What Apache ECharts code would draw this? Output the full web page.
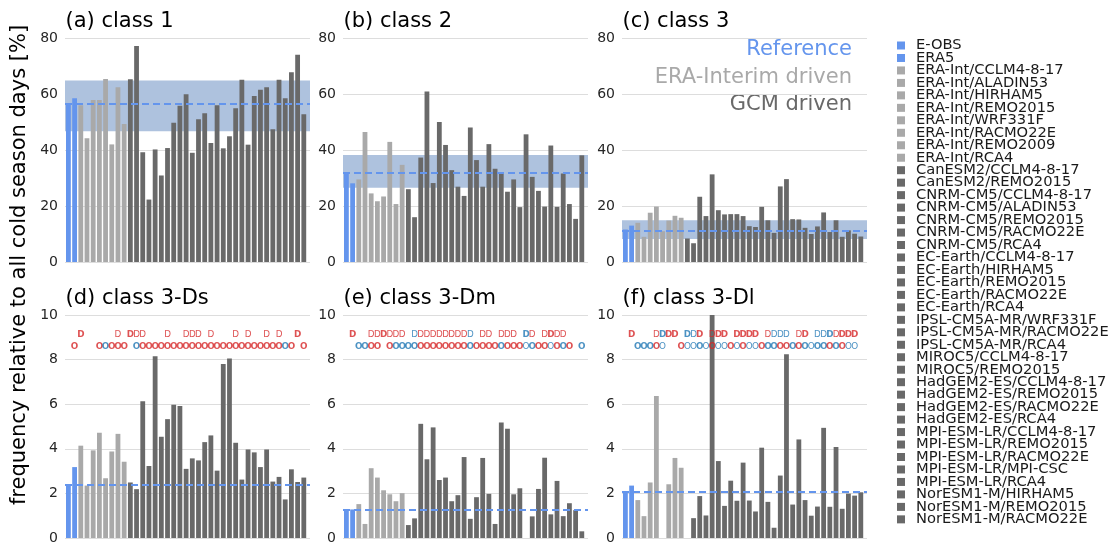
<!DOCTYPE html>
<html><head><meta charset="utf-8">
<script src="https://cdn.jsdelivr.net/npm/echarts@6/dist/echarts.min.js"></script>
<style>html,body{margin:0;padding:0;background:#fff}#c{width:1116px;height:545px}</style>
</head><body><div id="c"></div>
<script>
// ---------- data ----------
const models = [
  'E-OBS','ERA5',
  'ERA-Int/CCLM4-8-17','ERA-Int/ALADIN53','ERA-Int/HIRHAM5','ERA-Int/REMO2015',
  'ERA-Int/WRF331F','ERA-Int/RACMO22E','ERA-Int/REMO2009','ERA-Int/RCA4',
  'CanESM2/CCLM4-8-17','CanESM2/REMO2015',
  'CNRM-CM5/CCLM4-8-17','CNRM-CM5/ALADIN53','CNRM-CM5/REMO2015','CNRM-CM5/RACMO22E','CNRM-CM5/RCA4',
  'EC-Earth/CCLM4-8-17','EC-Earth/HIRHAM5','EC-Earth/REMO2015','EC-Earth/RACMO22E','EC-Earth/RCA4',
  'IPSL-CM5A-MR/WRF331F','IPSL-CM5A-MR/RACMO22E','IPSL-CM5A-MR/RCA4',
  'MIROC5/CCLM4-8-17','MIROC5/REMO2015',
  'HadGEM2-ES/CCLM4-8-17','HadGEM2-ES/REMO2015','HadGEM2-ES/RACMO22E','HadGEM2-ES/RCA4',
  'MPI-ESM-LR/CCLM4-8-17','MPI-ESM-LR/REMO2015','MPI-ESM-LR/RACMO22E','MPI-ESM-LR/MPI-CSC','MPI-ESM-LR/RCA4',
  'NorESM1-M/HIRHAM5','NorESM1-M/REMO2015','NorESM1-M/RACMO22E'
];
const nReference = 2;
const nEraInterim = 8;

const class1 = [56.6,58.5, 56.0,44.2,57.9,57.9,65.4,42.0,62.4,49.3,
  65.3,77.1,39.2,22.3,40.2,30.9,40.7,49.7,55.8,59.9,39.0,51.0,53.1,42.5,56.0,40.6,44.9,54.9,65.1,41.9,
  59.3,61.5,62.4,47.4,65.1,58.5,67.8,74.0,52.8];
const class2 = [32.0,28.1, 29.5,46.4,24.5,21.7,23.4,42.9,20.7,34.7,
  26.0,16.0,37.3,60.9,28.2,50.0,41.8,32.8,26.9,23.6,48.0,36.4,26.9,42.1,33.3,31.9,25.1,29.5,19.6,45.6,
  30.4,25.4,19.8,41.6,19.7,31.6,20.7,15.4,38.1];
const class3 = [11.6,13.0, 14.0,9.0,17.6,19.8,11.0,14.8,16.5,15.8,
  8.4,6.7,23.3,16.4,31.3,18.5,17.0,17.1,17.1,16.4,12.8,12.5,19.7,14.9,10.4,27.0,29.6,15.3,15.2,12.2,
  10.0,12.7,17.7,10.7,14.9,9.0,11.3,10.1,9.1];
const class3Ds = [2.41,3.18, 4.14,2.35,3.93,4.72,2.68,3.88,4.67,3.42,
  2.49,2.19,6.13,3.23,8.15,4.54,5.33,5.97,5.92,3.10,3.57,3.48,4.30,4.60,3.02,7.80,8.05,4.27,2.62,3.97,
  3.84,3.18,3.97,2.53,2.74,1.73,3.08,2.51,2.71];
const class3Dm = [1.30,1.28, 1.52,0.63,3.13,2.71,2.14,1.96,1.65,2.01,
  0.58,0.88,5.12,3.53,4.96,2.60,2.71,1.65,1.92,3.63,0.86,1.83,3.59,1.98,0.63,5.18,4.90,1.96,2.23,0,
  0.97,2.20,3.60,1.06,2.56,0.98,1.56,1.25,0.30];
const class3Dl = [2.07,2.35, 1.70,0.98,2.49,6.37,0,2.41,3.59,3.15,
  0,0.89,1.88,1.01,10.0,3.45,1.44,2.57,1.67,3.38,1.68,1.19,4.05,1.62,0.46,2.80,8.24,1.50,4.42,1.70,
  1.00,1.41,4.94,1.40,4.08,1.31,1.99,1.90,2.05];

const panelTitles = ['(a) class 1','(b) class 2','(c) class 3','(d) class 3-Ds','(e) class 3-Dm','(f) class 3-Dl'];
const refLine = [56.4, 32.0, 11.3, 2.41, 1.28, 2.07];
const bandLow  = [46.7, 26.5, 8.2];
const bandHigh = [64.8, 38.2, 14.9];
const topTicks = [0,20,40,60,80];
const bottomTicks = [0,2,4,6,8,10];
const groupLabels = ['Reference','ERA-Interim driven','GCM driven'];
const yLabel = 'frequency relative to all cold season days [%]';

// significance markers per model ('.' none, r/b = red/blue, upper case = bold)
const marksD_Ds = '..R.....r.Rrr...r..rrr.r...r.r..r.r..R.';
const marksO_Ds = '.R...RBRRR.BRRRRRRRRRRRRRRRRRRRRRRRBR.R';
const marksD_Dm = '.R..rrRrrr.brrrrrrrrb.rr.rrr.Br.rRrr...';
const marksO_Dm = '..BBRR.RBBBBRRRRRRRRBRRRRBRRRbBRRbRBR.B';
const marksD_Dl = '.R...rBRR.BbR.rRR.RRRR.rbbb.rR.bbBrRRR.';
const marksO_Dl = '..BBBRb..RbbBbRbbRbRbbRBBRRBRBbBBRBRbb.';

// ---------- styling / layout ----------
const FONT = 'DejaVu Sans';
const C_REF = '#6495ED', C_ERA = '#A9A9A9', C_GCM = '#696969';
const C_RED = '#d62728', C_BLUE = '#1f77b4';
const groupColors = [C_REF, C_ERA, C_GCM];
const colorOf = i => i < nReference ? C_REF : (i < nReference + nEraInterim ? C_ERA : C_GCM);

const allVals = [class1, class2, class3, class3Ds, class3Dm, class3Dl];
const marksD = [null,null,null, marksD_Ds, marksD_Dm, marksD_Dl];
const marksO = [null,null,null, marksO_Ds, marksO_Dm, marksO_Dl];
const gLeft = [65, 343, 622], gTop = [38, 315], gW = 245, gH = 224;

const grid = [], xAxis = [], yAxis = [], series = [], graphic = [];
for (let p = 0; p < 6; p++) {
  const col = p % 3, row = Math.floor(p / 3);
  const ticks = row === 0 ? topTicks : bottomTicks;
  grid.push({left: gLeft[col], top: gTop[row], width: gW, height: gH});
  xAxis.push({type:'value', gridIndex:p, min:-0.55, max:39, show:false});
  yAxis.push({type:'value', gridIndex:p, min:ticks[0], max:ticks[ticks.length-1],
    interval: ticks[1]-ticks[0],
    axisLine:{show:false}, axisTick:{show:false},
    splitLine:{lineStyle:{color:'#dddddd', width:1}},
    axisLabel:{fontFamily:FONT, fontSize:14, color:'#262626', margin:7}});
  if (row === 0) {
    series.push({type:'line', xAxisIndex:p, yAxisIndex:p, data:[], z:1, silent:true,
      markArea:{silent:true, itemStyle:{color:'#AEC2DE'},
        data:[[{yAxis:bandLow[p]},{yAxis:bandHigh[p]}]]}});
  }
  series.push({type:'bar', xAxisIndex:p, yAxisIndex:p, barWidth:4.8, z:2, silent:true,
    data: allVals[p].map((v,i)=>({value:[i,v], itemStyle:{color:colorOf(i)}}))});
  series.push({type:'line', xAxisIndex:p, yAxisIndex:p, data:[], z:5, silent:true,
    markLine:{silent:true, symbol:['none','none'], label:{show:false},
      lineStyle:{color:C_REF, width:2, type:[7,4]}, data:[{yAxis:refLine[p]}]}});
  if (row === 1) {
    [[marksD[p],'D',9.1],[marksO[p],'O',8.58]].forEach(([str,ch,yv])=>{
      const data = [];
      str.split('').forEach((c,i)=>{
        if (c === '.') return;
        data.push({value:[i,yv], label:{color:(c.toLowerCase()==='r'?C_RED:C_BLUE),
          fontWeight:(c===c.toUpperCase()?'bold':'normal')}});
      });
      series.push({type:'scatter', xAxisIndex:p, yAxisIndex:p, z:4, silent:true,
        symbolSize:1, itemStyle:{color:'rgba(0,0,0,0)'},
        label:{show:true, position:'inside', formatter:ch, fontFamily:FONT, fontSize:8.8},
        data});
    });
  }
  graphic.push({type:'text', left: gLeft[col]+0.5, top: (row===0? 11 : 288),
    style:{text:panelTitles[p], font:'21px "DejaVu Sans"', fill:'#000'}});
}

// legend dummy series
models.forEach((m,i)=>{
  series.push({type:'scatter', name:m, xAxisIndex:0, yAxisIndex:0, data:[],
    itemStyle:{color:colorOf(i), opacity:1}});
});

// group labels in panel (c)
const glY = [50, 77.5, 105];
groupLabels.forEach((t,k)=>{
  graphic.push({type:'text', x: 852, y: glY[k],
    style:{text:t, font:'21px "DejaVu Sans"', fill:groupColors[k], align:'right', verticalAlign:'middle'}});
});
// y-axis title
graphic.push({type:'text', x:20, y:265, rotation:Math.PI/2,
  style:{text:yLabel, font:'21px "DejaVu Sans"', fill:'#000', align:'center', verticalAlign:'middle'}});

const chart = echarts.init(document.getElementById('c'), null, {renderer:'canvas'});
chart.setOption({
  animation:false,
  backgroundColor:'#fff',
  grid, xAxis, yAxis, series, graphic,
  legend:{orient:'vertical', left:897, top:38, itemWidth:8, itemHeight:8, itemGap:-2.53,
    selectedMode:false, icon:'rect', padding:0,
    data: models.map((m,i)=>({name:m, itemStyle:{color:colorOf(i), opacity:1}})),
    textStyle:{fontFamily:FONT, fontSize:14.7, color:'#1a1a1a', lineHeight:12.47, padding:[0,0,0,6]}}
});
</script></body></html>
